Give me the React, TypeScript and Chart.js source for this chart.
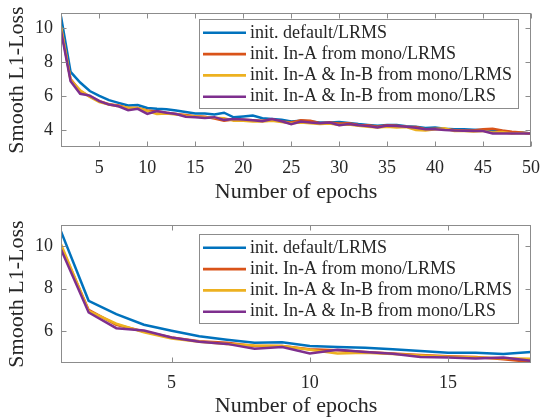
import React, { useEffect, useRef } from "react";
import { Chart, registerables } from "chart.js";

Chart.register(...registerables);

const epochs = [
  1, 2, 3, 4, 5, 6, 7, 8, 9, 10, 11, 12, 13, 14, 15, 16, 17, 18, 19, 20, 21, 22, 23, 24, 25,
  26, 27, 28, 29, 30, 31, 32, 33, 34, 35, 36, 37, 38, 39, 40, 41, 42, 43, 44, 45, 46, 47, 48, 49, 50,
];

const seriesLabels = [
  "init. default/LRMS",
  "init. In-A from mono/LRMS",
  "init. In-A & In-B from mono/LRMS",
  "init. In-A & In-B from mono/LRS",
];

const lossDefault = [
  10.7, 7.43, 6.8, 6.3, 6.02, 5.76, 5.6, 5.45, 5.48, 5.3, 5.25, 5.22, 5.15, 5.06, 4.98, 4.98, 4.92, 5.02,
  4.75, 4.8, 4.85, 4.7, 4.65, 4.6, 4.5, 4.55, 4.5, 4.45, 4.45, 4.48, 4.42, 4.35, 4.3, 4.25, 4.3, 4.3,
  4.22, 4.2, 4.12, 4.15, 4.08, 4.05, 4.05, 4.02, 4.0, 3.95, 3.95, 3.85, 3.85, 3.8,
];

const lossInA = [
  10.0, 7.0, 6.3, 5.98, 5.7, 5.52, 5.45, 5.3, 5.3, 5.15, 5.1, 5.02, 4.95, 4.88, 4.82, 4.78, 4.68, 4.55,
  4.62, 4.6, 4.58, 4.55, 4.62, 4.5, 4.45, 4.58, 4.55, 4.4, 4.45, 4.38, 4.4, 4.3, 4.28, 4.2, 4.28, 4.25,
  4.2, 4.18, 4.05, 4.08, 4.05, 4.0, 3.98, 3.98, 4.05, 4.08, 3.98, 3.9, 3.85, 3.8,
];

const lossInAB = [
  10.1, 6.95, 6.35, 5.95, 5.65, 5.5, 5.4, 5.32, 5.3, 5.12, 4.95, 4.98, 4.92, 4.85, 4.8, 4.76, 4.72, 4.7,
  4.55, 4.55, 4.5, 4.5, 4.55, 4.48, 4.4, 4.45, 4.4, 4.35, 4.38, 4.3, 4.32, 4.25, 4.2, 4.15, 4.2, 4.15,
  4.18, 4.0, 3.97, 4.05, 4.1, 3.95, 3.95, 3.92, 3.95, 3.85, 3.88, 3.8, 3.82, 3.78,
];

const lossInABLrs = [
  9.85, 6.88, 6.14, 6.03, 5.7, 5.5, 5.4, 5.17, 5.25, 4.95, 5.12, 5.02, 4.94, 4.78, 4.76, 4.71, 4.76, 4.6,
  4.65, 4.62, 4.58, 4.52, 4.65, 4.52, 4.35, 4.5, 4.44, 4.4, 4.44, 4.28, 4.36, 4.28, 4.24, 4.15, 4.26, 4.24,
  4.2, 4.14, 4.04, 4.05, 4.0, 3.97, 3.96, 3.95, 3.94, 3.8, 3.8, 3.8, 3.8, 3.8,
];

const seriesValues = [lossDefault, lossInA, lossInAB, lossInABLrs];
const seriesColors = ["#0072BD", "#D95319", "#EDB120", "#7E2F8E"];

const topXTicks = [5, 10, 15, 20, 25, 30, 35, 40, 45, 50];
const topYTicks = [4, 6, 8, 10];
const bottomXTicks = [5, 10, 15];
const bottomYTicks = [6, 8, 10];

const FONT = '"Liberation Serif", "Times New Roman", serif';
const TEXT = "#262626";
const AXIS = "#8c8c8c";

Chart.defaults.font.family = FONT;
Chart.defaults.color = TEXT;

const matlabPlugin = {
  id: "matlabAxes",
  afterDraw(chart: any, _args: any, opts: any) {
    const { ctx, chartArea: a, scales } = chart;
    ctx.save();
    ctx.strokeStyle = AXIS;
    ctx.lineWidth = 1;
    const L = Math.round(a.left) + 0.5;
    const R = Math.round(a.right) - 0.5;
    const T = Math.round(a.top) + 0.5;
    const B = Math.round(a.bottom) - 0.5;
    ctx.strokeRect(L, T, R - L, B - T);
    const tl = 5;
    ctx.beginPath();
    for (const t of scales.x.ticks) {
      const px = Math.round(scales.x.getPixelForValue(t.value)) + 0.5;
      ctx.moveTo(px, B);
      ctx.lineTo(px, B - tl);
      ctx.moveTo(px, T);
      ctx.lineTo(px, T + tl);
    }
    for (const t of scales.y.ticks) {
      const py = Math.round(scales.y.getPixelForValue(t.value)) + 0.5;
      ctx.moveTo(L, py);
      ctx.lineTo(L + tl, py);
      ctx.moveTo(R, py);
      ctx.lineTo(R - tl, py);
    }
    ctx.stroke();

    const lg = opts && opts.box;
    if (lg) {
      ctx.fillStyle = "#ffffff";
      ctx.fillRect(lg.x, lg.y, lg.w, lg.h);
      ctx.strokeStyle = AXIS;
      ctx.lineWidth = 1;
      ctx.strokeRect(lg.x + 0.5, lg.y + 0.5, lg.w, lg.h);
      ctx.font = `18px ${FONT}`;
      ctx.textBaseline = "middle";
      ctx.textAlign = "left";
      chart.data.datasets.forEach((ds: any, i: number) => {
        const cy = lg.y + lg.rowTop + i * lg.rowGap;
        ctx.strokeStyle = ds.borderColor;
        ctx.lineWidth = 2.6;
        ctx.beginPath();
        ctx.moveTo(lg.sx0, cy);
        ctx.lineTo(lg.sx1, cy);
        ctx.stroke();
        ctx.fillStyle = TEXT;
        ctx.fillText(ds.label, lg.tx, cy);
      });
    }
    ctx.restore();
  },
};

function makeConfig(p: any): any {
  return {
    type: "line",
    data: {
      datasets: seriesValues.map((vals, i) => ({
        label: seriesLabels[i],
        data: vals.map((v, j) => ({ x: epochs[j], y: v })),
        borderColor: seriesColors[i],
        backgroundColor: seriesColors[i],
        borderWidth: 2.5,
        pointRadius: 0,
        tension: 0,
        order: seriesValues.length - i,
      })),
    },
    options: {
      animation: false,
      responsive: false,
      maintainAspectRatio: false,
      events: [],
      layout: { padding: { top: p.padTop, right: 11, left: 0, bottom: 0 } },
      plugins: {
        legend: { display: false },
        tooltip: { enabled: false },
        matlabAxes: { box: p.legend },
      },
      scales: {
        x: {
          type: "linear",
          min: p.xMin,
          max: p.xMax,
          afterBuildTicks: (s: any) => {
            s.ticks = p.xTicks.map((v: number) => ({ value: v }));
          },
          afterFit: (s: any) => {
            s.height = p.xHeight;
            s.paddingLeft = 0;
            s.paddingRight = 0;
            s.paddingTop = 0;
            s.paddingBottom = 0;
          },
          grid: { display: false, drawTicks: false },
          border: { display: false },
          ticks: {
            font: { family: FONT, size: 18, lineHeight: 1 },
            color: TEXT,
            padding: p.xTickPad,
            maxRotation: 0,
            autoSkip: false,
          },
          title: {
            display: true,
            text: "Number of epochs",
            color: TEXT,
            font: { family: FONT, size: 22, lineHeight: 1 },
            padding: { top: 0, bottom: p.xTitlePad },
          },
        },
        y: {
          type: "linear",
          min: p.yMin,
          max: p.yMax,
          afterBuildTicks: (s: any) => {
            s.ticks = p.yTicks.map((v: number) => ({ value: v }));
          },
          afterFit: (s: any) => {
            s.width = 61;
            s.paddingLeft = 0;
            s.paddingRight = 0;
            s.paddingTop = 0;
            s.paddingBottom = 0;
          },
          grid: { display: false, drawTicks: false },
          border: { display: false },
          ticks: {
            font: { family: FONT, size: 18, lineHeight: 1 },
            color: TEXT,
            padding: 8,
            autoSkip: false,
          },
          title: {
            display: true,
            text: "Smooth L1-Loss",
            color: TEXT,
            font: { family: FONT, size: 22, lineHeight: 1 },
            padding: { top: 6.6, bottom: 0 },
          },
        },
      },
    },
    plugins: [matlabPlugin],
  };
}

function LossChart(props: { cfg: any; height: number }) {
  const ref = useRef<HTMLCanvasElement | null>(null);
  useEffect(() => {
    if (!ref.current) return;
    const chart = new Chart(ref.current, makeConfig(props.cfg));
    return () => chart.destroy();
  }, []);
  return (
    <div style={{ width: 542, height: props.height, position: "relative" }}>
      <canvas ref={ref} width={542} height={props.height} style={{ display: "block" }} />
    </div>
  );
}

const topCfg = {
  padTop: 13,
  xHeight: 63,
  xMin: 1,
  xMax: 50,
  yMin: 3,
  yMax: 10.9,
  xTicks: topXTicks,
  yTicks: topYTicks,
  xTickPad: 12,
  xTitlePad: 6.4,
  legend: { x: 199, y: 19, w: 319, h: 89, rowTop: 13.8, rowGap: 21.3, sx0: 203, sx1: 246, tx: 250 },
};

const bottomCfg = {
  padTop: 15,
  xHeight: 56,
  xMin: 1,
  xMax: 18,
  yMin: 4.5,
  yMax: 11,
  xTicks: bottomXTicks,
  yTicks: bottomYTicks,
  xTickPad: 11,
  xTitlePad: 1.4,
  legend: { x: 199, y: 24, w: 319, h: 89, rowTop: 13.8, rowGap: 21.3, sx0: 203, sx1: 246, tx: 250 },
};

export default function App() {
  return (
    <div style={{ position: "absolute", left: 0, top: 0, width: 542, height: 419, background: "#fff", overflow: "hidden" }}>
      <LossChart cfg={topCfg} height={210} />
      <LossChart cfg={bottomCfg} height={209} />
    </div>
  );
}
